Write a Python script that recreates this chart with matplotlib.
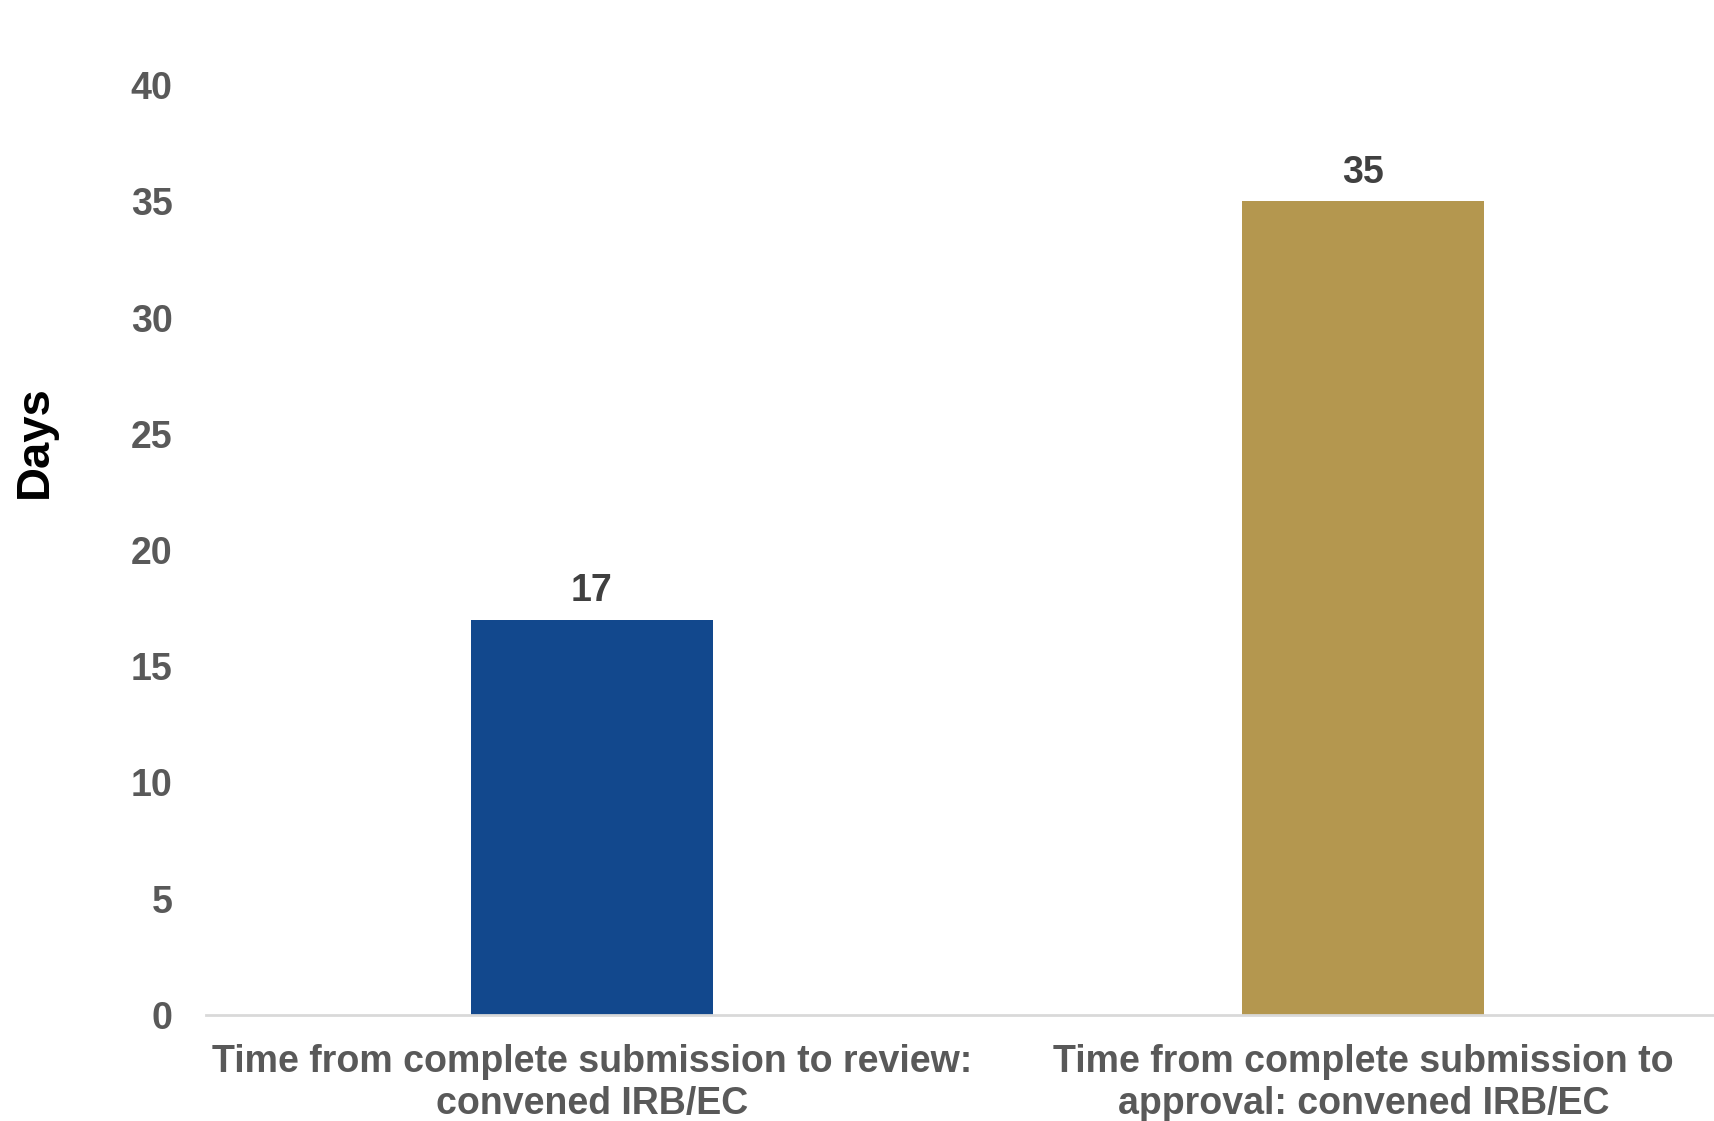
import matplotlib
matplotlib.use("Agg")
import matplotlib.pyplot as plt

categories = ["Time from complete submission to review:\nconvened IRB/EC",
              "Time from complete submission to\napproval: convened IRB/EC"]
values = [17, 35]
colors = ["#12488D", "#B4974F"]
yticks = [0, 5, 10, 15, 20, 25, 30, 35, 40]

plt.rcParams['font.family'] = ['Liberation Sans', 'DejaVu Sans']

W, H = 1714, 1121
fig = plt.figure(figsize=(W/100, H/100), dpi=100)
ax = fig.add_axes([206/W, 106/H, 1543/W, 930/H])

x = list(range(len(values)))
ax.bar(x, values, width=0.314, color=colors, zorder=2)
ax.set_xlim(-0.5, 1.5)
ax.set_ylim(0, 40)
ax.set_yticks(yticks)
ax.set_yticklabels([str(t) for t in yticks], fontsize=27, fontweight='bold', color='#595959')
ax.tick_params(axis='y', length=0, pad=24)
ax.set_xticks(x)
ax.set_xticklabels(categories, fontsize=27, fontweight='bold', color='#595959', linespacing=1.2)
ax.tick_params(axis='x', length=0, pad=21)

for s in ['top', 'right', 'left']:
    ax.spines[s].set_visible(False)
ax.spines['bottom'].set_color('#D9D9D9')
ax.spines['bottom'].set_linewidth(2)

for xi, v in zip(x, values):
    ax.annotate(str(v), (xi, v), xytext=(0, 7.5), textcoords='offset points',
                ha='center', va='bottom', fontsize=27, fontweight='bold', color='#404040')

fig.text(35/W, 1 - 442/H, "Days", rotation=90, ha='center', va='center',
         fontsize=34, fontweight='bold', color='black')

fig.savefig("out.png", dpi=100)
